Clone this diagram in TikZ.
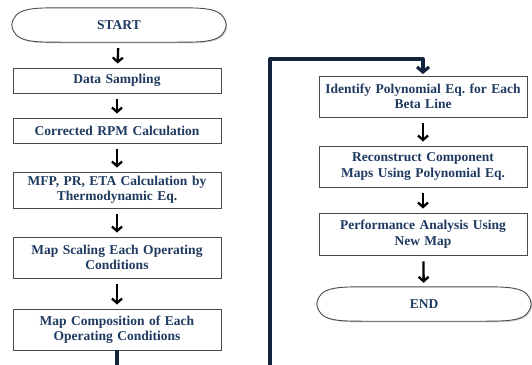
\documentclass[tikz,border=0pt]{standalone}
\usepackage{fontspec}
\setmainfont{Liberation Serif}
\usetikzlibrary{arrows.meta,shadows}
\definecolor{navytext}{HTML}{1F3A60}
\definecolor{navyline}{HTML}{14233C}
\definecolor{boxedge}{HTML}{4A4A4A}
\tikzset{
  procbox/.style={draw=boxedge,line width=0.9pt,fill=white,minimum width=208pt,text width=204pt,align=center,
    font=\bfseries\fontsize{13.5}{15.5}\selectfont,text=navytext,inner sep=2pt,
    drop shadow={shadow xshift=1.2pt,shadow yshift=-1.2pt,opacity=0.35}},
  termnode/.style={minimum width=214pt,minimum height=34pt,inner sep=0pt,
    font=\bfseries\fontsize{13.5}{15.5}\selectfont,text=navytext},
  flowarrow/.style={-{Straight Barb[length=4.5pt,width=10pt]},line width=2.3pt,black,shorten <=6pt,shorten >=4pt},
  loopline/.style={-{Straight Barb[length=5pt,width=12pt]},line width=3.2pt,navyline,line join=round}
}
\newcommand\termedge[1]{%
  \draw[boxedge,line width=0.9pt,fill=white,drop shadow={shadow xshift=1.2pt,shadow yshift=-1.2pt,opacity=0.35}]
    (#1.west) .. controls ([xshift=2pt]#1.north west) and ([xshift=20pt]#1.north west) .. ([xshift=50pt]#1.north west)
    -- ([xshift=-50pt]#1.north east) .. controls ([xshift=-20pt]#1.north east) and ([xshift=-2pt]#1.north east) .. (#1.east)
    .. controls ([xshift=-2pt]#1.south east) and ([xshift=-20pt]#1.south east) .. ([xshift=-50pt]#1.south east)
    -- ([xshift=50pt]#1.south west) .. controls ([xshift=20pt]#1.south west) and ([xshift=2pt]#1.south west) .. cycle;
  \node[termnode] at (#1) {\csname termtext#1\endcsname};}
\newcommand\termtextstart{START}
\newcommand\termtextfinish{END}
\begin{document}
\begin{tikzpicture}[x=1pt,y=-1pt]
  \useasboundingbox (0,0) rectangle (532,364);
  % left column
  \node[termnode](start)at(119,25){};
  \termedge{start}
  \node[procbox,minimum height=25pt](data)at(117,80.5){Data Sampling};
  \node[procbox,minimum height=25pt](rpm)at(117,130.5){Corrected RPM Calculation};
  \node[procbox,minimum height=36pt](mfp)at(117,190){MFP, PR, ETA Calculation by\\Thermodynamic Eq.};
  \node[procbox,minimum height=41pt](scale)at(117,257.5){Map Scaling Each Operating\\Conditions};
  \node[procbox,minimum height=41pt](comp)at(117,329.5){Map Composition of Each\\Operating Conditions};
  % right column
  \node[procbox,minimum height=41pt](ident)at(423,96.5){Identify Polynomial Eq.\ for Each\\Beta Line};
  \node[procbox,minimum height=41pt](recon)at(423,166.5){Reconstruct Component\\Maps Using Polynomial Eq.};
  \node[procbox,minimum height=42pt](perf)at(423,234){Performance Analysis Using\\New Map};
  \node[termnode](finish)at(424,304){};
  \termedge{finish}
  \draw[flowarrow](start)--(data);
  \draw[flowarrow](data)--(rpm);
  \draw[flowarrow](rpm)--(mfp);
  \draw[flowarrow](mfp)--(scale);
  \draw[flowarrow](scale)--(comp);
  \draw[flowarrow](ident)--(recon);
  \draw[flowarrow](recon)--(perf);
  \draw[flowarrow](perf)--(finish);
  % jump to the second column, runs below the page edge
  \coordinate(low)at(270,372);
  \coordinate(high)at(270,59);
  \draw[loopline,shorten >=1.5pt](comp.south)|-(low)--(high)-|(ident.north);
\end{tikzpicture}
\end{document}
